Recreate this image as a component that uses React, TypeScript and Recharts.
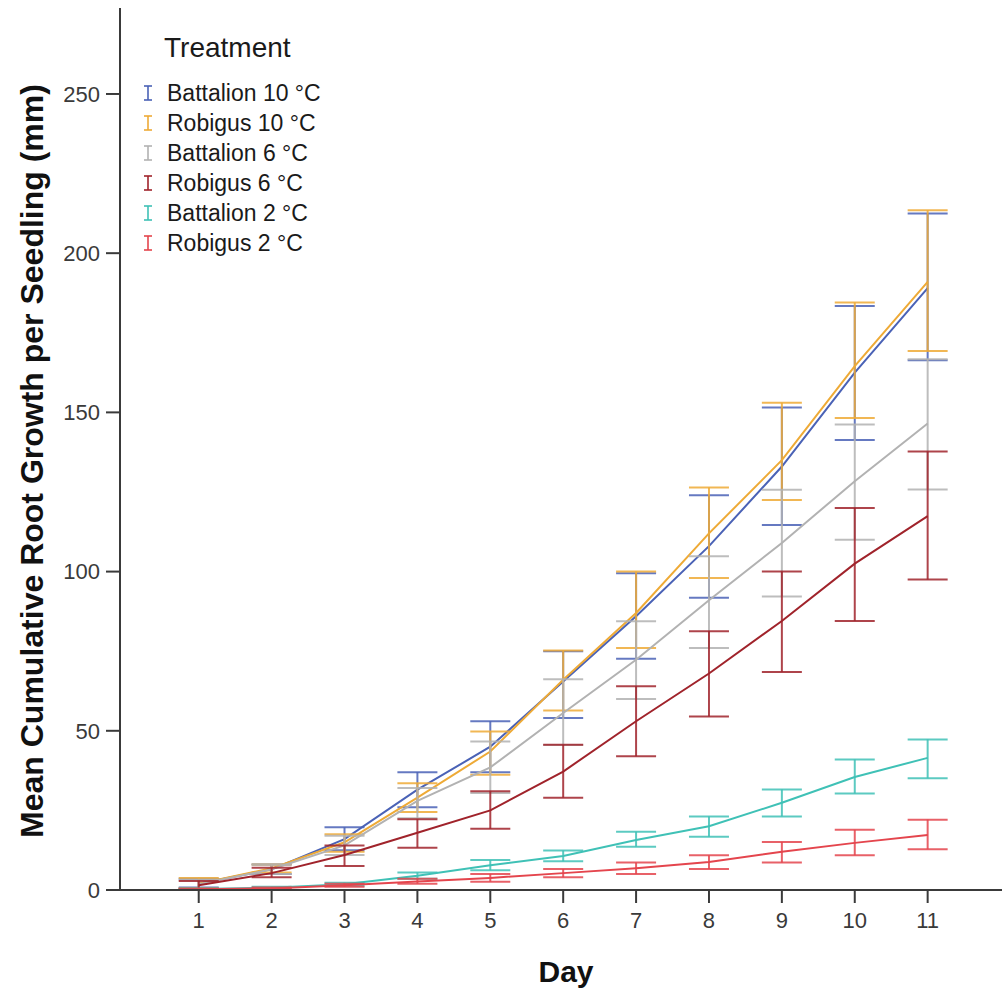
import React from 'react';
import { LineChart, Line, XAxis, YAxis, ErrorBar } from 'recharts';

// Days of measurement
const days = [1, 2, 3, 4, 5, 6, 7, 8, 9, 10, 11];
const dayTicks = [1, 2, 3, 4, 5, 6, 7, 8, 9, 10, 11];
const growthTicks = [0, 50, 100, 150, 200, 250];

// Mean cumulative root growth (mm) with error bar bounds, per treatment
const battalion10Mean = [2, 6.5, 16, 31.5, 45, 65.5, 86, 108, 133, 162.5, 189];
const battalion10Low = [0.8, 5, 12.5, 26, 37, 54, 72.6, 91.8, 114.6, 141.3, 166.4];
const battalion10High = [3.5, 8, 19.7, 37, 53, 75, 99.5, 124, 151.5, 183.4, 212.5];

const robigus10Mean = [2, 6.8, 15, 29, 43.5, 66, 87, 112, 135, 164.5, 191];
const robigus10Low = [0.6, 5.5, 12, 24.5, 36.2, 56.4, 76, 98, 122.5, 148.2, 169.3];
const robigus10High = [3.8, 8, 17.5, 33.5, 49.8, 75.2, 100, 126.4, 153, 184.5, 213.5];

const battalion6Mean = [1.8, 6.5, 14, 28, 38.5, 55.6, 72.3, 91, 109, 128.4, 146.5];
const battalion6Low = [0.5, 5, 11, 22.5, 30.5, 45.5, 60, 76, 92.2, 110, 125.8];
const battalion6High = [3.2, 8, 17, 32, 46.6, 66.2, 84.4, 104.8, 125.7, 146.2, 166.7];

const robigus6Mean = [1.5, 5.3, 11, 18, 25, 37.2, 53, 68, 84.5, 102.5, 117.4];
const robigus6Low = [0.4, 4, 7.5, 13.3, 19.2, 29, 42, 54.5, 68.5, 84.5, 97.5];
const robigus6High = [2.8, 7, 14, 22.2, 31, 45.6, 64, 81.3, 100, 120, 137.7];

const battalion2Mean = [0.3, 0.7, 1.8, 4.5, 7.8, 10.7, 15.7, 20, 27.4, 35.5, 41.5];
const battalion2Low = [0.1, 0.4, 1.3, 3.5, 6.2, 9, 13.6, 16.7, 23.1, 30.3, 35.1];
const battalion2High = [0.5, 1, 2.3, 5.5, 9.4, 12.4, 18.3, 23.1, 31.6, 41, 47.3];

const robigus2Mean = [0.2, 0.5, 1.5, 2.7, 3.8, 5.3, 6.8, 8.8, 12, 14.8, 17.3];
const robigus2Low = [0.05, 0.3, 1, 2, 2.6, 4, 5, 6.6, 8.6, 10.9, 12.8];
const robigus2High = [0.4, 0.8, 2, 3.5, 5, 6.6, 8.6, 10.9, 15.1, 18.9, 22.1];

const series = [
  { key: 'b10', name: 'Battalion 10 °C', color: '#4a62b6', mean: battalion10Mean, low: battalion10Low, high: battalion10High },
  { key: 'r10', name: 'Robigus 10 °C', color: '#eeaa36', mean: robigus10Mean, low: robigus10Low, high: robigus10High },
  { key: 'b6', name: 'Battalion 6 °C', color: '#b2b2b2', mean: battalion6Mean, low: battalion6Low, high: battalion6High },
  { key: 'r6', name: 'Robigus 6 °C', color: '#a0232b', mean: robigus6Mean, low: robigus6Low, high: robigus6High },
  { key: 'b2', name: 'Battalion 2 °C', color: '#3fc1b6', mean: battalion2Mean, low: battalion2Low, high: battalion2High },
  { key: 'r2', name: 'Robigus 2 °C', color: '#e4454d', mean: robigus2Mean, low: robigus2Low, high: robigus2High },
];

const rows = days.map((day, i) => {
  const row: any = { day };
  series.forEach((s) => {
    row[s.key] = s.mean[i];
    row[s.key + 'Err'] = [s.mean[i] - s.low[i], s.high[i] - s.mean[i]];
  });
  return row;
});

const FONT = '"Liberation Sans", Arial, sans-serif';

const BarGlyph = ({ color }: { color: string }) => (
  <svg width="10" height="18" style={{ display: 'block' }}>
    <line x1="1" y1="2" x2="9" y2="2" stroke={color} strokeWidth="1.6" />
    <line x1="5" y1="2" x2="5" y2="16" stroke={color} strokeWidth="1.6" />
    <line x1="1" y1="16" x2="9" y2="16" stroke={color} strokeWidth="1.6" />
  </svg>
);

const TreatmentLegend = () => (
  <div style={{ position: 'absolute', left: 143, top: 30, fontFamily: FONT, color: '#1a1a1a' }}>
    <div style={{ fontSize: 28, lineHeight: '36px', marginLeft: 21, marginBottom: 12 }}>Treatment</div>
    {series.map((s) => (
      <div key={s.key} style={{ display: 'flex', alignItems: 'center', height: 30 }}>
        <BarGlyph color={s.color} />
        <span style={{ fontSize: 23, marginLeft: 14 }}>{s.name}</span>
      </div>
    ))}
  </div>
);

const App = () => {
  return (
    <div style={{ position: 'absolute', left: 0, top: 0, width: 1004, height: 994, background: '#fff' }}>
      <LineChart width={1004} height={994} data={rows} margin={{ top: 8, right: 2, left: 0, bottom: 0 }}>
        <XAxis
          dataKey="day"
          type="number"
          domain={[-0.08, 12.02]}
          ticks={dayTicks}
          height={104}
          tickSize={13}
          tickMargin={9}
          axisLine={{ stroke: '#3a3a3a', strokeWidth: 2 }}
          tickLine={{ stroke: '#3a3a3a', strokeWidth: 2 }}
          tick={{ fontSize: 22, fill: '#3a3a3a', fontFamily: FONT }}
          label={({ viewBox }: any) => (
            <text
              x={viewBox.x + viewBox.width / 2 + 5}
              y={viewBox.y + 81}
              textAnchor="middle"
              dominantBaseline="central"
              fontSize={30}
              fontWeight="bold"
              fontFamily={FONT}
              fill="#111"
            >
              Day
            </text>
          )}
        />
        <XAxis xAxisId="top" orientation="top" dataKey="day" type="number" domain={[-0.08, 12.02]} height={0} tick={false} tickLine={false} axisLine={{ stroke: '#3a3a3a', strokeWidth: 2 }} />
        <YAxis
          type="number"
          domain={[0, 277]}
          ticks={growthTicks}
          width={120}
          tickSize={14}
          tickMargin={6}
          axisLine={{ stroke: '#3a3a3a', strokeWidth: 2 }}
          tickLine={{ stroke: '#3a3a3a', strokeWidth: 2 }}
          tick={{ fontSize: 22, fill: '#3a3a3a', fontFamily: FONT }}
          label={({ viewBox }: any) => {
            const cx = viewBox.x + 32;
            const cy = viewBox.y + viewBox.height / 2 + 12;
            return (
              <text
                x={cx}
                y={cy}
                textAnchor="middle"
                dominantBaseline="central"
                transform={`rotate(-90, ${cx}, ${cy})`}
                fontSize={32}
                fontWeight="bold"
                fontFamily={FONT}
                fill="#111"
              >
                Mean Cumulative Root Growth per Seedling (mm)
              </text>
            );
          }}
        />
        <YAxis yAxisId="right" orientation="right" type="number" domain={[0, 277]} width={0} tick={false} tickLine={false} axisLine={{ stroke: '#c8c8c8', strokeWidth: 1.5 }} />
        {series.map((s) => (
          <Line
            key={s.key}
            dataKey={s.key}
            name={s.name}
            stroke={s.color}
            strokeWidth={2}
            dot={false}
            activeDot={false}
            isAnimationActive={false}
          >
            <ErrorBar dataKey={s.key + 'Err'} direction="y" width={20} stroke={s.color} strokeWidth={2} strokeOpacity={0.85} isAnimationActive={false} />
          </Line>
        ))}
      </LineChart>
      <TreatmentLegend />
    </div>
  );
};

export default App;
